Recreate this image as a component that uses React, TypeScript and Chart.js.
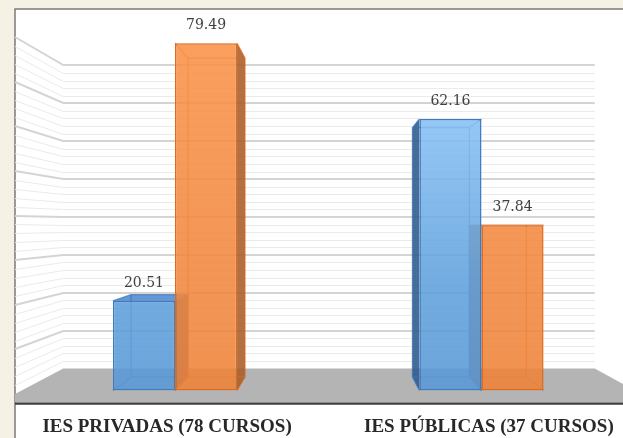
import { useEffect, useRef } from "react";
import { Chart, registerables } from "chart.js";

Chart.register(...registerables);

// ---- data ----
const categories = ["IES PRIVADAS (78 CURSOS)", "IES PÚBLICAS (37 CURSOS)"];
const blueValues = [20.51, 62.16];
const orangeValues = [79.49, 37.84];
const axisMax = 80;
const gridStep = 2;
const majorStep = 10;

// ---- layout / perspective constants ----
const W = 660;
const H = 438;
const VX = 334;
const VY = 225;
const K_BACK = 0.918;
const K_WALL = 0.867;
const K_FRONT = 1.0216;
const K_LABEL = 1.05;
const BOX_TOP = 9;

function proj(x: number, y: number, k: number): [number, number] {
  return [VX + k * (x - VX), VY + k * (y - VY)];
}

const scenePlugin = {
  id: "scene3d",
  beforeDraw(chart: any) {
    const { ctx, chartArea: ca } = chart;
    ctx.save();
    ctx.fillStyle = "#f6f1e5";
    ctx.fillRect(0, 0, W, H);
    const [bx] = proj(ca.left, 0, K_FRONT);
    ctx.fillStyle = "#ffffff";
    ctx.fillRect(bx, BOX_TOP, W - bx, H - BOX_TOP);
    ctx.strokeStyle = "#7a7a7a";
    ctx.lineWidth = 1.5;
    ctx.beginPath();
    ctx.moveTo(bx, H);
    ctx.lineTo(bx, BOX_TOP);
    ctx.lineTo(W, BOX_TOP);
    ctx.stroke();
    ctx.restore();
  },
  beforeDatasetsDraw(chart: any) {
    const { ctx, chartArea: ca } = chart;
    const yScale = chart.scales.y;
    ctx.save();
    // gridlines on back wall and left wall
    for (const t of yScale.ticks) {
      const v = Math.round(t.value * 1000) / 1000;
      if (v === 0) continue;
      const yF = yScale.getPixelForValue(v);
      const bl = proj(ca.left, yF, K_WALL);
      const br = proj(ca.right, yF, K_WALL);
      const fl = proj(ca.left, yF, K_FRONT);
      const major = Math.abs(v % majorStep) < 1e-6;
      const yb = major ? Math.round(bl[1]) : Math.round(bl[1]) + 0.5;
      const yf = major ? Math.round(fl[1]) : Math.round(fl[1]) + 0.5;
      ctx.strokeStyle = major ? "#d4d4d4" : "#ebebeb";
      ctx.lineWidth = major ? 2 : 1;
      ctx.beginPath();
      ctx.moveTo(fl[0], yf);
      ctx.lineTo(bl[0], yb);
      ctx.lineTo(br[0], yb);
      ctx.stroke();
    }
    // floor
    const yB = yScale.getPixelForValue(0);
    const bl = proj(ca.left, yB, K_WALL);
    const br = proj(ca.right, yB, K_WALL);
    const fr = proj(ca.right, yB, K_FRONT);
    const fl = proj(ca.left, yB, K_FRONT);
    const slabBottom = fl[1] + 8.5;
    ctx.fillStyle = "#b4b4b4";
    ctx.beginPath();
    ctx.moveTo(bl[0], bl[1]);
    ctx.lineTo(br[0], br[1]);
    ctx.lineTo(fr[0], fr[1]);
    ctx.lineTo(W, fr[1]);
    ctx.lineTo(W, slabBottom);
    ctx.lineTo(fl[0], slabBottom);
    ctx.lineTo(fl[0], fl[1]);
    ctx.closePath();
    ctx.fill();
    ctx.strokeStyle = "#3f3f3f";
    ctx.lineWidth = 2.2;
    ctx.beginPath();
    ctx.moveTo(fl[0], slabBottom + 1);
    ctx.lineTo(W, slabBottom + 1);
    ctx.stroke();

    // 3D parts of bars
    const items: any[] = [];
    chart.data.datasets.forEach((ds: any, di: number) => {
      const meta = chart.getDatasetMeta(di);
      meta.data.forEach((el: any) => {
        items.push({ el, di });
      });
    });
    items.sort((a, b) => Math.abs(b.el.x - VX) - Math.abs(a.el.x - VX));
    for (const { el, di } of items) {
      const L = el.x - el.width / 2;
      const R = el.x + el.width / 2;
      const T = el.y;
      const B = el.base;
      const lt = proj(L, T, K_BACK);
      const rt = proj(R, T, K_BACK);
      const lb = proj(L, B, K_BACK);
      const rb = proj(R, B, K_BACK);
      const blue = di === 0;
      const side = blue ? "rgba(45,90,140,0.88)" : "rgba(168,92,40,0.88)";
      const top = blue ? "rgba(85,140,205,0.9)" : "rgba(230,125,55,0.9)";
      const edge = blue ? "rgba(55,115,185,0.75)" : "rgba(215,105,35,0.75)";
      ctx.fillStyle = side;
      ctx.beginPath();
      if (el.x < VX) {
        ctx.moveTo(R, T);
        ctx.lineTo(rt[0], rt[1]);
        ctx.lineTo(rb[0], rb[1]);
        ctx.lineTo(R, B);
      } else {
        ctx.moveTo(L, T);
        ctx.lineTo(lt[0], lt[1]);
        ctx.lineTo(lb[0], lb[1]);
        ctx.lineTo(L, B);
      }
      ctx.closePath();
      ctx.fill();
      if (T > VY) {
        ctx.fillStyle = top;
        ctx.beginPath();
        ctx.moveTo(L, T);
        ctx.lineTo(R, T);
        ctx.lineTo(rt[0], rt[1]);
        ctx.lineTo(lt[0], lt[1]);
        ctx.closePath();
        ctx.fill();
      }
      ctx.strokeStyle = edge;
      ctx.lineWidth = 1.2;
      ctx.beginPath();
      ctx.rect(lt[0], lt[1], rt[0] - lt[0], lb[1] - lt[1]);
      ctx.moveTo(L, T); ctx.lineTo(lt[0], lt[1]);
      ctx.moveTo(R, T); ctx.lineTo(rt[0], rt[1]);
      ctx.moveTo(L, B); ctx.lineTo(lb[0], lb[1]);
      ctx.moveTo(R, B); ctx.lineTo(rb[0], rb[1]);
      ctx.stroke();
    }
    ctx.restore();
  },
  afterDatasetsDraw(chart: any) {
    const { ctx } = chart;
    const xScale = chart.scales.x;
    ctx.save();
    ctx.fillStyle = "#404040";
    ctx.font = '14px "DejaVu Serif"';
    ctx.textAlign = "center";
    ctx.textBaseline = "middle";
    chart.data.datasets.forEach((ds: any, di: number) => {
      const meta = chart.getDatasetMeta(di);
      meta.data.forEach((el: any, i: number) => {
        ctx.fillText(ds.data[i].toFixed(2), el.x, el.y - 18);
      });
    });
    ctx.fillStyle = "#282828";
    ctx.font = 'bold 19px "Liberation Serif"';
    ctx.textBaseline = "alphabetic";
    chart.data.labels.forEach((lab: string, i: number) => {
      const cx = VX + K_LABEL * (xScale.getPixelForValue(i) - VX);
      ctx.fillText(lab, cx, 432);
    });
    ctx.restore();
  },
};

function vGrad(chart: any, stops: [number, string][], fallback: string) {
  const ca = chart.chartArea;
  if (!ca) return fallback;
  const g = chart.ctx.createLinearGradient(0, ca.top, 0, ca.bottom);
  for (const [o, c] of stops) g.addColorStop(o, c);
  return g;
}

export default function App() {
  const ref = useRef<HTMLCanvasElement | null>(null);
  useEffect(() => {
    if (!ref.current) return;
    const chart = new Chart(ref.current, {
      type: "bar",
      data: {
        labels: categories,
        datasets: [
          {
            label: "Serie 1",
            data: blueValues,
            backgroundColor: (c: any) =>
              vGrad(c.chart, [
                [0, "rgba(150,205,250,0.88)"],
                [0.22, "rgba(135,192,244,0.88)"],
                [0.7, "rgba(95,160,220,0.88)"],
                [1, "rgba(88,152,214,0.88)"],
              ], "rgba(95,160,220,0.88)"),
            borderColor: "#3b7cc2",
            borderWidth: 1.5,
            borderSkipped: false,
            categoryPercentage: 0.405,
            barPercentage: 1,
          },
          {
            label: "Serie 2",
            data: orangeValues,
            backgroundColor: (c: any) =>
              vGrad(c.chart, [
                [0, "rgba(249,146,72,0.88)"],
                [1, "rgba(238,130,56,0.88)"],
              ], "rgba(244,138,62,0.88)"),
            borderColor: "#de6a1e",
            borderWidth: 1.5,
            borderSkipped: false,
            categoryPercentage: 0.405,
            barPercentage: 1,
          },
        ],
      },
      options: {
        responsive: false,
        animation: false,
        devicePixelRatio: 1,
        layout: { padding: { left: 21.75, right: 25.25, top: 41, bottom: 47.5 } },
        plugins: { legend: { display: false }, tooltip: { enabled: false } },
        scales: {
          x: { display: false, grid: { display: false } },
          y: {
            display: false,
            min: 0,
            max: axisMax,
            ticks: { stepSize: gridStep, maxTicksLimit: 100, autoSkip: false },
            grid: { display: false },
          },
        },
      },
      plugins: [scenePlugin],
    });
    return () => chart.destroy();
  }, []);
  return (
    <div style={{ position: "fixed", left: 0, top: 0, width: 623, height: 438, overflow: "hidden" }}>
      <canvas ref={ref} width={W} height={H} style={{ width: W, height: H, display: "block" }} />
    </div>
  );
}
